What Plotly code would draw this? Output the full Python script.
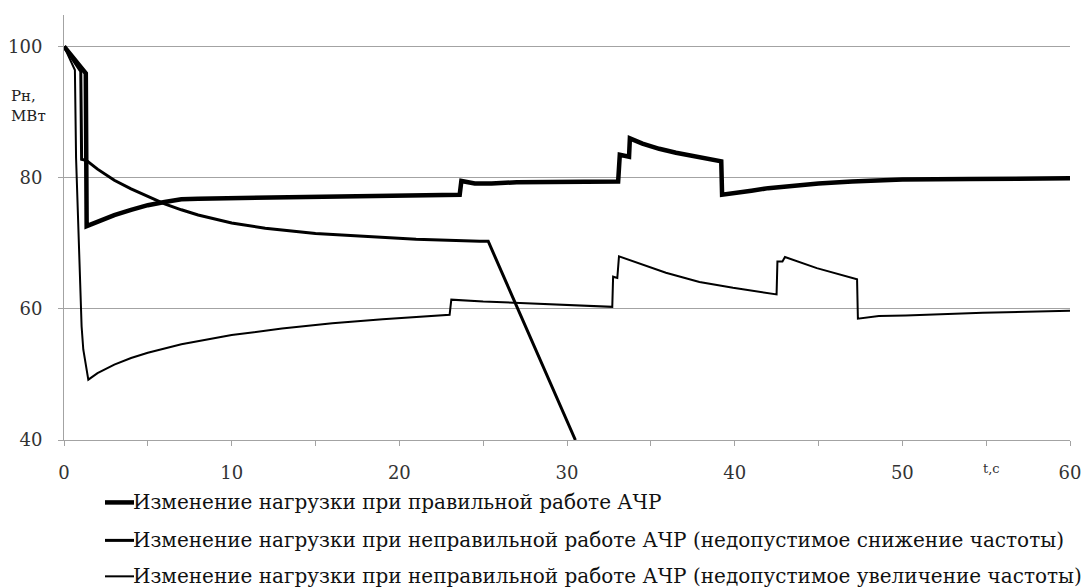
import plotly.graph_objects as go

# Series 1: correct operation of AFLS (thick)
t1 = [0, 1.3, 1.35, 2, 3, 4, 5, 6, 7, 8, 12, 16, 20, 23.6, 23.7, 24.5, 25.5, 27, 33.05, 33.15, 33.7, 33.75,
      34.5, 35.5, 36.5, 37.5, 38.5, 39.2, 39.25, 40, 41, 42, 43.5, 45, 47, 50, 54, 60]
p1 = [100, 95.9, 72.6, 73.3, 74.3, 75.1, 75.8, 76.3, 76.7, 76.8, 76.95, 77.1, 77.25, 77.4, 79.5, 79.1, 79.1, 79.3, 79.4, 83.5, 83.2, 86.0,
      85.2, 84.4, 83.8, 83.3, 82.8, 82.5, 77.4, 77.6, 78.0, 78.4, 78.8, 79.1, 79.4, 79.7, 79.8, 79.9]

# Series 2: incorrect operation, unacceptable frequency decrease (medium)
t2 = [0, 1.0, 1.05, 1.35, 2, 3, 4, 4.5, 5, 6, 7, 8, 10, 12, 15, 18, 21, 24.8, 25.3, 30.5]
p2 = [100, 96.2, 82.8, 82.6, 81.3, 79.6, 78.3, 77.7, 77.1, 76.0, 75.1, 74.3, 73.1, 72.3, 71.5, 71.0, 70.6, 70.3, 70.3, 40]

# Series 3: incorrect operation, unacceptable frequency increase (thin)
t3 = [0, 0.65, 0.72, 1.05, 1.15, 1.45, 2, 3, 4, 5, 7, 10, 13, 16, 19, 23.0, 23.1, 25, 27.2, 30.8, 32.7, 32.75,
      33.0, 33.1, 34.5, 35.9, 37.9, 39.9, 42.5, 42.55, 42.85, 43.0, 44.9, 47.3, 47.35, 48.6, 50.2, 54.8, 60]
p3 = [100, 96.4, 83.0, 57.3, 53.8, 49.2, 50.2, 51.5, 52.5, 53.3, 54.6, 56.0, 57.0, 57.8, 58.4, 59.1, 61.4, 61.1, 60.9, 60.5, 60.3, 64.9,
      64.7, 68.0, 66.7, 65.5, 64.1, 63.2, 62.2, 67.2, 67.2, 67.9, 66.2, 64.5, 58.5, 58.9, 59.0, 59.4, 59.7]

names = [
    "Изменение нагрузки при правильной работе АЧР",
    "Изменение нагрузки при неправильной работе АЧР (недопустимое снижение частоты)",
    "Изменение нагрузки при неправильной работе АЧР (недопустимое увеличение частоты)",
]
y_ticks = [40, 60, 80, 100]
x_ticks = [0, 10, 20, 30, 40, 50, 60]
y_title = "Рн,<br>МВт"
x_title = "t,c"

FONT = "DejaVu Serif"
GRID = "#a3a3a3"
widths = [4.5, 3, 2]

# plot area in pixels: x 64..1070, y 15..440.5
def px_x(X):
    return (X - 64) / 1006.0

def px_y(Y):
    return (440.5 - Y) / 425.5

fig = go.Figure()
for i, (t, p) in enumerate([(t1, p1), (t2, p2), (t3, p3)]):
    fig.add_trace(go.Scatter(x=t, y=p, mode="lines", name=names[i],
                             line=dict(color="black", width=widths[i])))

# legend drawn below the axis (sample line + real text)
legend_rows = [503, 541, 577]
shapes = []
annotations = []
for i, row in enumerate(legend_rows):
    shapes.append(dict(type="line", xref="paper", yref="paper",
                       x0=px_x(105), x1=px_x(134), y0=px_y(row), y1=px_y(row),
                       line=dict(color="black", width=widths[i])))
    annotations.append(dict(text=names[i], xref="paper", yref="paper", x=px_x(131), y=px_y(row),
                            xanchor="left", yanchor="middle", showarrow=False,
                            font=dict(family=FONT, size=20, color="#111")))

annotations.append(dict(text=y_title, xref="paper", yref="paper", x=px_x(9), y=px_y(106),
                        xanchor="left", yanchor="middle", align="left", showarrow=False,
                        font=dict(family=FONT, size=15, color="#222")))
annotations.append(dict(text=x_title, xref="x", yref="paper", x=55.3, y=px_y(469),
                        xanchor="center", yanchor="middle", showarrow=False,
                        font=dict(family=FONT, size=13, color="#333")))

fig.update_layout(
    width=1084, height=587,
    margin=dict(l=64, r=14, t=15, b=146.5, autoexpand=False),
    paper_bgcolor="white", plot_bgcolor="white",
    font=dict(family=FONT, color="#222"),
    showlegend=False,
    xaxis=dict(range=[0, 60], tickvals=x_ticks, showgrid=False, zeroline=False, automargin=False,
               showline=True, linecolor=GRID, linewidth=1,
               ticks="outside", ticklen=5, tickcolor=GRID,
               minor=dict(dtick=5, ticks="outside", ticklen=5, tickcolor=GRID, showgrid=False),
               tickfont=dict(family=FONT, size=18, color="#333"), ticklabelstandoff=11),
    yaxis=dict(range=[40, 104.8], tickvals=y_ticks, showgrid=True, gridcolor=GRID, gridwidth=1,
               zeroline=False, showline=True, linecolor=GRID, linewidth=1, automargin=False,
               ticks="outside", ticklen=5, tickcolor=GRID,
               tickfont=dict(family=FONT, size=18, color="#333"), ticklabelstandoff=12),
    shapes=shapes,
    annotations=annotations,
)

fig.write_html("out.html", config={"displayModeBar": False},
               post_script="document.body.style.margin='0';")
